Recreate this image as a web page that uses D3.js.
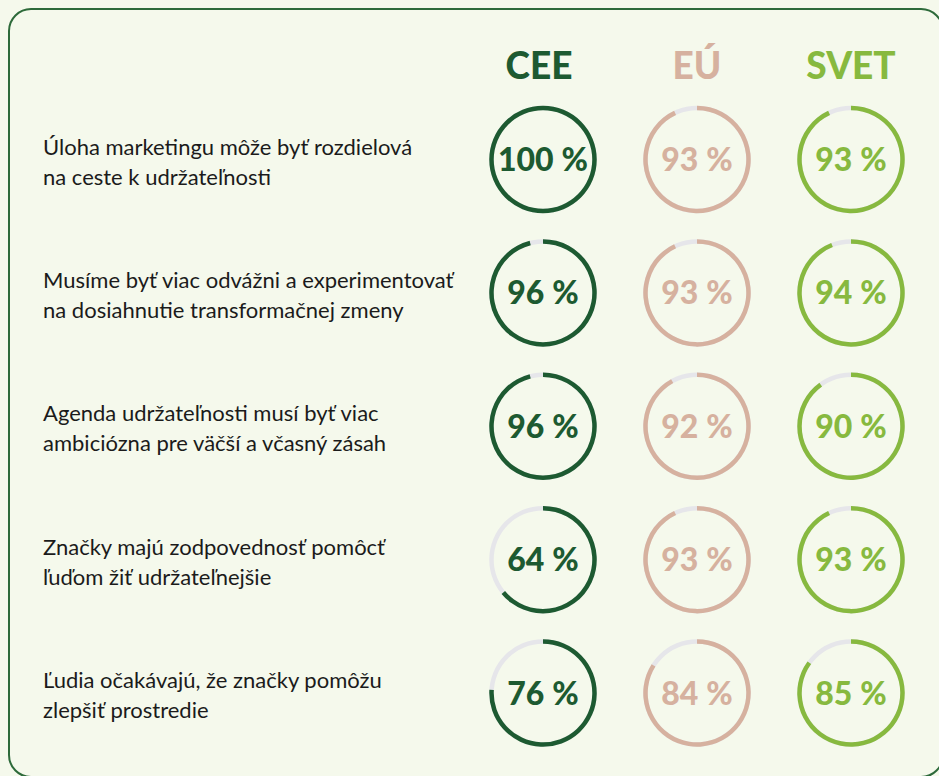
<!DOCTYPE html>
<html>
<head>
<meta charset="utf-8">
<script src="https://cdn.jsdelivr.net/npm/d3@7"></script>
<style>
  html, body { margin: 0; padding: 0; background: #f5f9ec; }
  svg { display: block; }
</style>
</head>
<body>
<div id="chart"></div>
<script>
// Data
const regions = ["CEE", "EÚ", "SVET"];
const statements = [
    ["Úloha marketingu môže byť rozdielová", "na ceste k udržateľnosti"],
    ["Musíme byť viac odvážni a experimentovať", "na dosiahnutie transformačnej zmeny"],
    ["Agenda udržateľnosti musí byť viac", "ambiciózna pre väčší a včasný zásah"],
    ["Značky majú zodpovednosť pomôcť", "ľuďom žiť udržateľnejšie"],
    ["Ľudia očakávajú, že značky pomôžu", "zlepšiť prostredie"]
];
const ceeValues = [100, 96, 96, 64, 76];
const euValues = [93, 93, 92, 93, 84];
const svetValues = [93, 94, 90, 93, 85];

const colors = { "CEE": "#1d5a31", "EÚ": "#d6b19f", "SVET": "#87b93f" };
const trackColor = "#e6e6ea";

const width = 939, height = 776;
const svg = d3.select("#chart")
    .append("svg")
    .attr("width", width)
    .attr("height", height);

// card frame
svg.append("rect")
    .attr("x", 9)
    .attr("y", 9)
    .attr("width", 934)
    .attr("height", 768)
    .attr("rx", 22)
    .attr("fill", "#f5f9ec")
    .attr("stroke", "#2d6a3a")
    .attr("stroke-width", 2);

const xScale = d3.scalePoint().domain(regions).range([543, 851]);
const yScale = d3.scalePoint().domain(d3.range(statements.length)).range([159.5, 693]);
const pct = d3.scaleLinear().domain([0, 100]).range([0, 2 * Math.PI]);

const radius = 51.5, thick = 4.5;
const arc = d3.arc()
    .innerRadius(radius - thick / 2)
    .outerRadius(radius + thick / 2)
    .startAngle(0);

// column headers
svg.selectAll(".header")
    .data(regions)
    .enter()
    .append("text")
    .attr("class", "header")
    .attr("x", d => xScale(d) - (d === "CEE" ? 4 : 0))
    .attr("y", 79)
    .attr("text-anchor", "middle")
    .style("font-family", "Lato, sans-serif")
    .style("font-weight", 900)
    .style("font-size", "37px")
    .style("fill", d => colors[d])
    .text(d => d);

// statement labels
const labels = svg.selectAll(".label")
    .data(statements)
    .enter()
    .append("text")
    .attr("class", "label")
    .attr("x", 43)
    .attr("y", (d, i) => yScale(i) - 5)
    .style("font-family", "Lato, sans-serif")
    .style("font-size", "22px")
    .style("fill", "#1b1b1b");

labels.selectAll("tspan")
    .data(d => d)
    .enter()
    .append("tspan")
    .attr("x", 43)
    .attr("dy", (d, i) => i === 0 ? 0 : 30)
    .text(d => d);

// rings
const cells = [];
statements.forEach((s, i) => {
    cells.push({ region: "CEE", row: i, value: ceeValues[i] });
    cells.push({ region: "EÚ", row: i, value: euValues[i] });
    cells.push({ region: "SVET", row: i, value: svetValues[i] });
});

const g = svg.selectAll(".ring")
    .data(cells)
    .enter()
    .append("g")
    .attr("class", "ring")
    .attr("transform", d => `translate(${xScale(d.region)}, ${yScale(d.row)})`);

g.append("path")
    .attr("d", arc({ endAngle: 2 * Math.PI }))
    .attr("fill", trackColor);

g.append("path")
    .attr("d", d => arc({ endAngle: pct(d.value) }))
    .attr("fill", d => colors[d.region]);

g.append("text")
    .attr("y", 11.5)
    .attr("text-anchor", "middle")
    .style("font-family", "Lato, sans-serif")
    .style("font-weight", 900)
    .style("font-size", "32px")
    .style("fill", d => colors[d.region])
    .text(d => `${d.value}\u202F%`);
</script>
</body>
</html>
